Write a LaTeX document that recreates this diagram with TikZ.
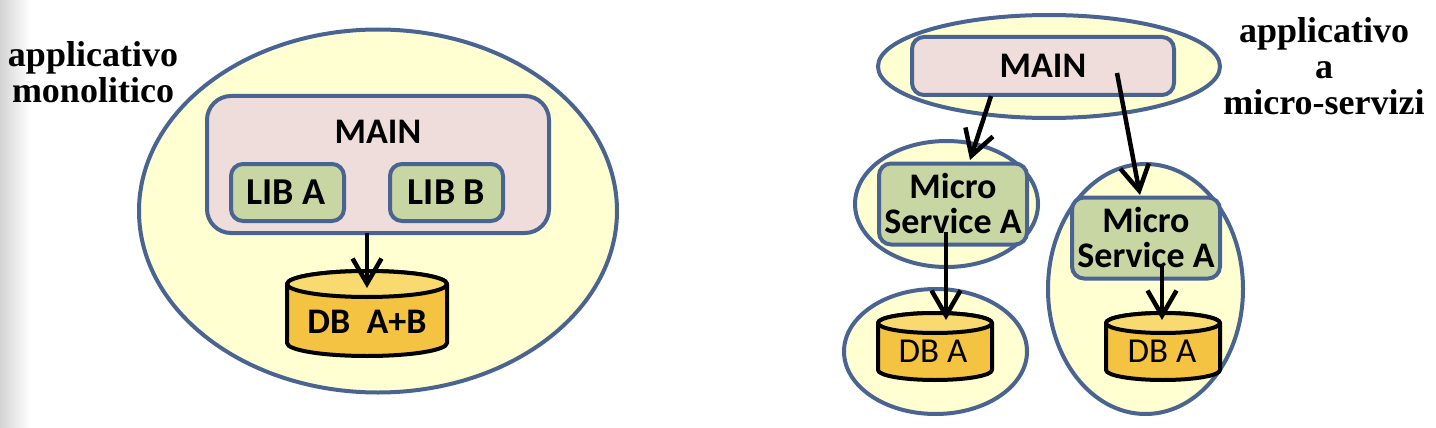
\documentclass[tikz,border=0pt]{standalone}
\usepackage{fontspec}
\setmainfont{Liberation Serif}
\newfontfamily\boxfont{Carlito}
\usetikzlibrary{shapes.geometric,arrows.meta}
\definecolor{edgeblue}{HTML}{4A6491}
\definecolor{ovalfill}{HTML}{FFFFD2}
\definecolor{mainfill}{HTML}{EFDDDC}
\definecolor{libfill}{HTML}{C8D6A4}
\definecolor{dbbody}{HTML}{F5C342}
\definecolor{dbtop}{HTML}{F8DA70}
\tikzset{
  oval/.style={ellipse,draw=edgeblue,fill=ovalfill,line width=4pt,inner sep=0pt,outer sep=0pt},
  box/.style={rectangle,rounded corners=#1,draw=edgeblue,line width=4pt,inner sep=0pt,outer sep=0pt,align=center,font=\boxfont\bfseries\fontsize{36}{36}\selectfont},
  box/.default=12pt,
  dbline/.style={draw=black,line width=4pt,line join=round},
  link/.style={line width=4.5pt,draw=black,-{Straight Barb[length=25pt,width=29pt,line width=4.5pt]}},
  title/.style={font=\bfseries\fontsize{36}{36}\selectfont,align=center,inner sep=0pt},
  dbtext/.style={inner sep=0pt,font=\boxfont\fontsize{35}{36}\selectfont},
  boldtext/.style={inner sep=0pt,font=\boxfont\bfseries\fontsize{36}{36}\selectfont}
}
% #1 name, #2 centre x, #3 top y, #4 half width, #5 height, #6 half height of the end ellipse
\newcommand{\dbdrum}[6]{%
  \coordinate (#1) at (#2,#3+0.5*#5);
  \path[fill=dbbody,dbline] (#2-#4,#3+#6) -- (#2-#4,#3+#5-#6)
     arc[start angle=180,end angle=360,x radius=#4,y radius=-#6] -- (#2+#4,#3+#6)
     arc[start angle=0,end angle=180,x radius=#4,y radius=-#6] -- cycle;
  \path[fill=dbtop,dbline] (#2,#3+#6) ellipse[x radius=#4,y radius=#6];
}
\begin{document}
\begin{tikzpicture}[x=1pt,y=-1pt]
\useasboundingbox (0,0) rectangle (1436,428);
\fill[left color=black!17,right color=white] (0,0) rectangle (30,428);
% monolith
\node[oval,minimum width=478pt,minimum height=363pt] (ovalM) at (378,211) {};
\node[box=24pt,fill=mainfill,minimum width=342pt,minimum height=137pt] (mainM) at (378,164.5) {};
\node[boldtext] (mainMtext) at (378,132) {MAIN};
\node[box=12pt,fill=libfill,minimum width=113pt,minimum height=57pt,font=\boxfont\bfseries\fontsize{38}{38}\selectfont] (libA) at (287.5,192.5) {\hspace{-3pt}LIB A};
\node[box=12pt,fill=libfill,minimum width=113pt,minimum height=57pt,font=\boxfont\bfseries\fontsize{38}{38}\selectfont] (libB) at (446.5,192.5) {LIB B};
\dbdrum{dbM}{367}{271}{80}{85}{13}
\node[boldtext] (dbMtext) at (367,322) {DB\ \ A+B};
\coordinate (dbMin) at (367,288);
\draw[link] (mainM.south -| dbMin) -- (dbMin);
\node[title] (titleM) at (93,72) {applicativo\\monolitico};
% micro-services
\node[oval,minimum width=342pt,minimum height=103pt] (ovalMain) at (1049,66.5) {};
\node[box=12pt,fill=mainfill,minimum width=262pt,minimum height=58pt] (mainS) at (1043,66) {MAIN};
\node[oval,minimum width=183pt,minimum height=126pt] (ovalA) at (946.5,204) {};
\node[box=12pt,fill=libfill,minimum width=148pt,minimum height=81pt] (svcA) at (953,204) {\vspace{-2pt}Micro\\[-1pt]Service A};
\node[oval,minimum width=183pt,minimum height=125pt] (ovalDbA) at (935.5,351.5) {};
\dbdrum{dbA}{935}{313}{57}{67}{10}
\node[dbtext] (dbAtext) at (933,351) {DB A};
\node[oval,minimum width=195pt,minimum height=250pt] (ovalB) at (1145.5,289) {};
\node[box=12pt,fill=libfill,minimum width=148pt,minimum height=81pt] (svcB) at (1146,238) {Micro\\[-1pt]Service A};
\dbdrum{dbB}{1163}{313}{57}{67}{10}
\node[dbtext] (dbBtext) at (1162,351) {DB A};
\coordinate (m1) at (991,96);
\coordinate (m2) at (1117,73);
\coordinate (a1in) at (970,160);
\coordinate (b1in) at (1140,195);
\coordinate (a1out) at (946,232);
\coordinate (b1out) at (1162,266);
\coordinate (a2in) at (946,320);
\coordinate (b2in) at (1162,320);
\draw[link] (m1) -- (a1in);
\draw[link] (m2) -- (b1in);
\draw[link] (a1out) -- (a2in);
\draw[link] (b1out) -- (b2in);
\node[title] (titleS) at (1324,66) {applicativo\\a\\micro-servizi};
\end{tikzpicture}
\end{document}
